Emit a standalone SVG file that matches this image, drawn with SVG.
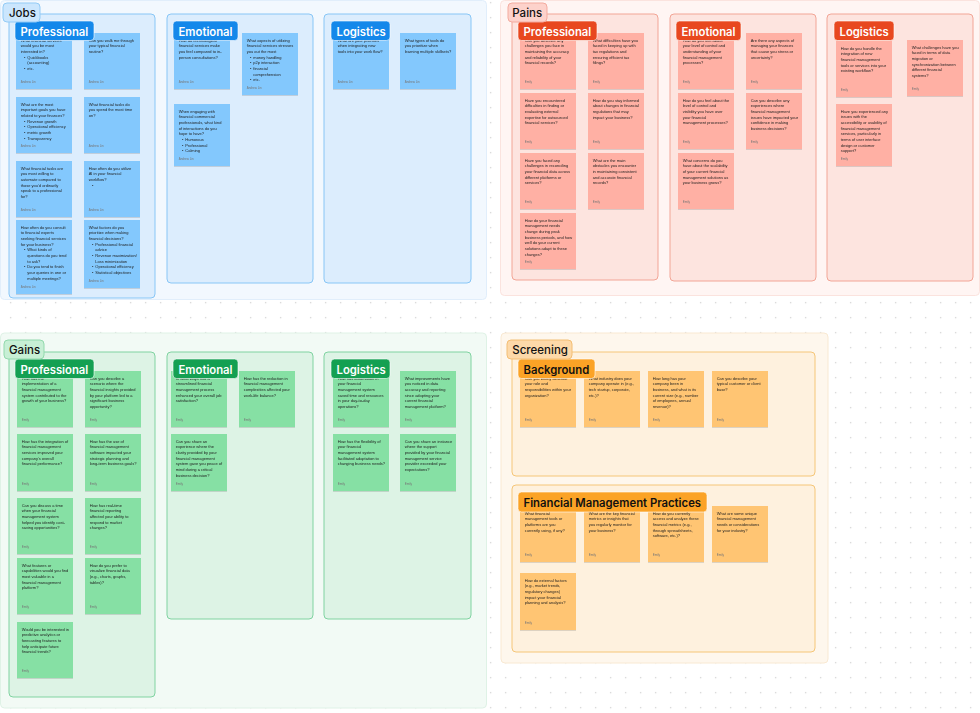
<svg xmlns="http://www.w3.org/2000/svg" width="980" height="713" viewBox="0 0 980 713">
<defs>
<pattern id="dots" width="15" height="15" patternUnits="userSpaceOnUse" x="3.2" y="-4.8"><rect x="6.9" y="6.9" width="1.2" height="1.2" fill="#c9c9c9"/></pattern>
<filter id="sh" x="-10%" y="-10%" width="120%" height="125%"><feDropShadow dx="0" dy="0.8" stdDeviation="0.7" flood-color="#000" flood-opacity="0.16"/></filter>
<style>
.t{font-family:"Liberation Sans",Arial,sans-serif;font-size:4px;fill:#1e1e1e}
.a{font-family:"Liberation Sans",Arial,sans-serif;font-size:3px;fill:#777}
.sec{font-family:Inter,"Liberation Sans",Arial,sans-serif;font-size:11.5px;font-weight:500;fill:#111}
.lab{font-family:Inter,"Liberation Sans",Arial,sans-serif;font-size:11.3px;font-weight:600;fill:#fff}
.labd{font-family:Inter,"Liberation Sans",Arial,sans-serif;font-size:11.3px;font-weight:600;fill:#111}
.s{filter:url(#sh)}
.jo{fill:#f2f8fe;stroke:#e1eefb}
.jc{fill:#dcedfd;stroke:#88c6f6}
.jb{fill:#cbe6fd;stroke:#93cbf6}
.jl{fill:#1488ea;stroke:#ffffff;stroke-opacity:.6}
.js{fill:#83c8fd}
.po{fill:#fff5f3;stroke:#fbe3de}
.pc{fill:#fde4df;stroke:#f2a596}
.pb{fill:#fdd2cb;stroke:#f3ab9f}
.pl{fill:#e8481f;stroke:#ffffff;stroke-opacity:.6}
.ps{fill:#ffb0a4}
.go{fill:#f2faf5;stroke:#dff2e6}
.gc{fill:#ddf3e5;stroke:#80d3a1}
.gb{fill:#c7efd5;stroke:#92d9ad}
.gl{fill:#14a052;stroke:#ffffff;stroke-opacity:.6}
.gs{fill:#86e0a4}
.so{fill:#fef7ed;stroke:#f9e9d2}
.sc{fill:#fef1de;stroke:#f5c678}
.sbd{fill:#fdd9a9;stroke:#f3be74}
.sl{fill:#fba326;stroke:#ffffff;stroke-opacity:.6}
.ss{fill:#ffc573}
</style>
</defs>
<rect width="980" height="713" fill="#ffffff"/>
<rect width="980" height="713" fill="url(#dots)"/>

<!-- ================= JOBS ================= -->
<g id="jobs">
<rect class="jo" x="0.5" y="0.5" width="486" height="299" rx="4"/>

<g id="jobs-professional">
<rect class="jc" x="9" y="14" width="146" height="284" rx="4"/>
<g id="jp1" class="s"><rect class="js" x="16" y="33" width="56" height="56"/>
<text class="t"><tspan x="20.7" y="41.8">What financial services</tspan><tspan x="20.7" dy="5.67">would you be most</tspan><tspan x="20.7" dy="5.67">interested in?</tspan><tspan x="24" dy="5.67">•</tspan><tspan x="27.3">Quickbooks</tspan><tspan x="27.3" dy="5.67">(accounting)</tspan><tspan x="24" dy="5.67">•</tspan><tspan x="27.3">etc.</tspan></text>
<text class="a" x="20.7" y="83">Andrew Lin</text></g>
<g id="jp2" class="s"><rect class="js" x="84" y="33" width="56" height="56"/>
<text class="t"><tspan x="88.7" y="41.8">Can you walk me through</tspan><tspan x="88.7" dy="5.67">your typical financial</tspan><tspan x="88.7" dy="5.67">routine?</tspan></text>
<text class="a" x="88.7" y="83">Andrew Lin</text></g>
<g id="jp3" class="s"><rect class="js" x="16" y="97" width="56" height="56"/>
<text class="t"><tspan x="20.7" y="105.8">What are the most</tspan><tspan x="20.7" dy="5.67">important goals you have</tspan><tspan x="20.7" dy="5.67">related to your finances?</tspan><tspan x="24" dy="5.67">•</tspan><tspan x="27.3">Revenue growth</tspan><tspan x="24" dy="5.67">•</tspan><tspan x="27.3">Operational efficiency</tspan><tspan x="24" dy="5.67">•</tspan><tspan x="27.3">metric growth</tspan><tspan x="24" dy="5.67">•</tspan><tspan x="27.3">Transparency</tspan></text>
<text class="a" x="20.7" y="147">Andrew Lin</text></g>
<g id="jp4" class="s"><rect class="js" x="84" y="97" width="56" height="56"/>
<text class="t"><tspan x="88.7" y="105.8">What financial tasks do</tspan><tspan x="88.7" dy="5.67">you spend the most time</tspan><tspan x="88.7" dy="5.67">on?</tspan></text>
<text class="a" x="88.7" y="147">Andrew Lin</text></g>
<g id="jp5" class="s"><rect class="js" x="16" y="161" width="56" height="56"/>
<text class="t"><tspan x="20.7" y="169.8">What financial tasks are</tspan><tspan x="20.7" dy="5.67">you most willing to</tspan><tspan x="20.7" dy="5.67">automate compared to</tspan><tspan x="20.7" dy="5.67">those you'd ordinarily</tspan><tspan x="20.7" dy="5.67">speak to a professional</tspan><tspan x="20.7" dy="5.67">for?</tspan></text>
<text class="a" x="20.7" y="211">Andrew Lin</text></g>
<g id="jp6" class="s"><rect class="js" x="84" y="161" width="56" height="56"/>
<text class="t"><tspan x="88.7" y="169.8">How often do you utilize</tspan><tspan x="88.7" dy="5.67">AI in your financial</tspan><tspan x="88.7" dy="5.67">workflow?</tspan><tspan x="92" dy="5.67">•</tspan></text>
<text class="a" x="88.7" y="211">Andrew Lin</text></g>
<g id="jp7" class="s"><rect class="js" x="16" y="220" width="56" height="74"/>
<text class="t"><tspan x="20.7" y="228.8">How often do you consult</tspan><tspan x="20.7" dy="5.67">to financial experts</tspan><tspan x="20.7" dy="5.67">seeking financial services</tspan><tspan x="20.7" dy="5.67">for your business?</tspan><tspan x="24" dy="5.67">•</tspan><tspan x="27.3">What kinds of</tspan><tspan x="27.3" dy="5.67">questions do you tend</tspan><tspan x="27.3" dy="5.67">to ask?</tspan><tspan x="24" dy="5.67">•</tspan><tspan x="27.3">Do you tend to finish</tspan><tspan x="27.3" dy="5.67">your queries in one or</tspan><tspan x="27.3" dy="5.67">multiple meetings?</tspan></text>
<text class="a" x="20.7" y="288">Andrew Lin</text></g>
<g id="jp8" class="s"><rect class="js" x="84" y="220" width="56" height="68"/>
<text class="t"><tspan x="88.7" y="228.8">What factors do you</tspan><tspan x="88.7" dy="5.67">prioritize when making</tspan><tspan x="88.7" dy="5.67">financial decisions?</tspan><tspan x="92" dy="5.67">•</tspan><tspan x="95.3">Professional financial</tspan><tspan x="95.3" dy="5.67">advice</tspan><tspan x="92" dy="5.67">•</tspan><tspan x="95.3">Revenue maximization/</tspan><tspan x="95.3" dy="5.67">Loss minimization</tspan><tspan x="92" dy="5.67">•</tspan><tspan x="95.3">Operational efficiency</tspan><tspan x="92" dy="5.67">•</tspan><tspan x="95.3">Statistical objectives</tspan></text>
<text class="a" x="88.7" y="282">Andrew Lin</text></g>
<g id="jp-label"><rect class="jl" x="15" y="21" width="79" height="19.5" rx="3.5"/><text class="lab" x="20.5" y="35.5">Professional</text></g>
</g>

<g id="jobs-emotional">
<rect class="jc" x="167" y="14" width="146" height="269" rx="4"/>
<g id="je1" class="s"><rect class="js" x="174" y="33" width="56" height="56"/>
<text class="t"><tspan x="178.7" y="41.8">How do technological</tspan><tspan x="178.7" dy="5.67">financial services make</tspan><tspan x="178.7" dy="5.67">you feel compared to in-</tspan><tspan x="178.7" dy="5.67">person consultations?</tspan></text>
<text class="a" x="178.7" y="83">Andrew Lin</text></g>
<g id="je2" class="s"><rect class="js" x="242" y="33" width="56" height="62"/>
<text class="t"><tspan x="246.7" y="41.8">What aspects of utilizing</tspan><tspan x="246.7" dy="5.67">financial services stresses</tspan><tspan x="246.7" dy="5.67">you out the most</tspan><tspan x="250" dy="5.67">•</tspan><tspan x="253.3">money handling</tspan><tspan x="250" dy="5.67">•</tspan><tspan x="253.3">p2p interaction</tspan><tspan x="250" dy="5.67">•</tspan><tspan x="253.3">financial</tspan><tspan x="253.3" dy="5.67">comprehension</tspan><tspan x="250" dy="5.67">•</tspan><tspan x="253.3">etc.</tspan></text>
<text class="a" x="246.7" y="89">Andrew Lin</text></g>
<g id="je3" class="s"><rect class="js" x="174" y="104" width="56" height="62"/>
<text class="t"><tspan x="178.7" y="112.8">When engaging with</tspan><tspan x="178.7" dy="5.67">financial commercial</tspan><tspan x="178.7" dy="5.67">professionals, what kind</tspan><tspan x="178.7" dy="5.67">of interactions do you</tspan><tspan x="178.7" dy="5.67">hope to have?</tspan><tspan x="182" dy="5.67">•</tspan><tspan x="185.3">Humorous</tspan><tspan x="182" dy="5.67">•</tspan><tspan x="185.3">Professional</tspan><tspan x="182" dy="5.67">•</tspan><tspan x="185.3">Calming</tspan></text>
<text class="a" x="178.7" y="160">Andrew Lin</text></g>
<g id="je-label"><rect class="jl" x="173" y="21" width="65" height="19.5" rx="3.5"/><text class="lab" x="178.5" y="35.5">Emotional</text></g>
</g>

<g id="jobs-logistics">
<rect class="jc" x="324" y="14" width="147" height="269" rx="4"/>
<g id="jl1" class="s"><rect class="js" x="333" y="33" width="56" height="56"/>
<text class="t"><tspan x="337.7" y="41.8">What are your priorities</tspan><tspan x="337.7" dy="5.67">when integrating new</tspan><tspan x="337.7" dy="5.67">tools into your work flow?</tspan></text>
<text class="a" x="337.7" y="83">Andrew Lin</text></g>
<g id="jl2" class="s"><rect class="js" x="400" y="33" width="56" height="56"/>
<text class="t"><tspan x="404.7" y="41.8">What types of tools do</tspan><tspan x="404.7" dy="5.67">you prioritize when</tspan><tspan x="404.7" dy="5.67">learning multiple skillsets?</tspan></text>
<text class="a" x="404.7" y="83">Andrew Lin</text></g>
<g id="jl-label"><rect class="jl" x="331" y="21" width="59" height="19.5" rx="3.5"/><text class="lab" x="336.5" y="35.5">Logistics</text></g>
</g>
<g id="jobs-title"><rect class="jb" x="3" y="3" width="37" height="19" rx="4"/><text class="sec" x="9" y="16.7">Jobs</text></g>
</g>

<!-- ================= PAINS ================= -->
<g id="pains">
<rect class="po" x="500.5" y="0.5" width="479" height="295" rx="4"/>

<g id="pains-professional">
<rect class="pc" x="512" y="14" width="146" height="266" rx="4"/>
<g id="pp1" class="s"><rect class="ps" x="520" y="33" width="56" height="56"/>
<text class="t"><tspan x="524.7" y="41.8">Can you describe any</tspan><tspan x="524.7" dy="5.67">challenges you face in</tspan><tspan x="524.7" dy="5.67">maintaining the accuracy</tspan><tspan x="524.7" dy="5.67">and reliability of your</tspan><tspan x="524.7" dy="5.67">financial records?</tspan></text>
<text class="a" x="524.7" y="83">Emily</text></g>
<g id="pp2" class="s"><rect class="ps" x="588" y="33" width="56" height="56"/>
<text class="t"><tspan x="592.7" y="41.8">What difficulties have you</tspan><tspan x="592.7" dy="5.67">faced in keeping up with</tspan><tspan x="592.7" dy="5.67">tax regulations and</tspan><tspan x="592.7" dy="5.67">ensuring efficient tax</tspan><tspan x="592.7" dy="5.67">filings?</tspan></text>
<text class="a" x="592.7" y="83">Emily</text></g>
<g id="pp3" class="s"><rect class="ps" x="520" y="93" width="56" height="56"/>
<text class="t"><tspan x="524.7" y="101.8">Have you encountered</tspan><tspan x="524.7" dy="5.67">difficulties in finding or</tspan><tspan x="524.7" dy="5.67">evaluating external</tspan><tspan x="524.7" dy="5.67">expertise for outsourced</tspan><tspan x="524.7" dy="5.67">financial services?</tspan></text>
<text class="a" x="524.7" y="143">Emily</text></g>
<g id="pp4" class="s"><rect class="ps" x="588" y="93" width="56" height="56"/>
<text class="t"><tspan x="592.7" y="101.8">How do you stay informed</tspan><tspan x="592.7" dy="5.67">about changes in financial</tspan><tspan x="592.7" dy="5.67">regulations that may</tspan><tspan x="592.7" dy="5.67">impact your business?</tspan></text>
<text class="a" x="592.7" y="143">Emily</text></g>
<g id="pp5" class="s"><rect class="ps" x="520" y="153" width="56" height="56"/>
<text class="t"><tspan x="524.7" y="161.8">Have you faced any</tspan><tspan x="524.7" dy="5.67">challenges in reconciling</tspan><tspan x="524.7" dy="5.67">your financial data across</tspan><tspan x="524.7" dy="5.67">different platforms or</tspan><tspan x="524.7" dy="5.67">services?</tspan></text>
<text class="a" x="524.7" y="203">Emily</text></g>
<g id="pp6" class="s"><rect class="ps" x="588" y="153" width="56" height="56"/>
<text class="t"><tspan x="592.7" y="161.8">What are the main</tspan><tspan x="592.7" dy="5.67">obstacles you encounter</tspan><tspan x="592.7" dy="5.67">in maintaining consistent</tspan><tspan x="592.7" dy="5.67">and accurate financial</tspan><tspan x="592.7" dy="5.67">records?</tspan></text>
<text class="a" x="592.7" y="203">Emily</text></g>
<g id="pp7" class="s"><rect class="ps" x="520" y="213" width="56" height="56"/>
<text class="t"><tspan x="524.7" y="221.8">How do your financial</tspan><tspan x="524.7" dy="5.67">management needs</tspan><tspan x="524.7" dy="5.67">change during peak</tspan><tspan x="524.7" dy="5.67">business periods, and how</tspan><tspan x="524.7" dy="5.67">well do your current</tspan><tspan x="524.7" dy="5.67">solutions adapt to these</tspan><tspan x="524.7" dy="5.67">changes?</tspan></text>
<text class="a" x="524.7" y="263">Emily</text></g>
<g id="pp-label"><rect class="pl" x="518" y="21" width="79" height="19.5" rx="3.5"/><text class="lab" x="523.5" y="35.5">Professional</text></g>
</g>

<g id="pains-emotional">
<rect class="pc" x="670" y="14" width="146" height="267" rx="4"/>
<g id="pe1" class="s"><rect class="ps" x="678" y="33" width="56" height="56"/>
<text class="t"><tspan x="682.7" y="41.8">How do you feel about</tspan><tspan x="682.7" dy="5.67">your level of control and</tspan><tspan x="682.7" dy="5.67">understanding of your</tspan><tspan x="682.7" dy="5.67">financial management</tspan><tspan x="682.7" dy="5.67">processes?</tspan></text>
<text class="a" x="682.7" y="83">Emily</text></g>
<g id="pe2" class="s"><rect class="ps" x="746" y="33" width="56" height="56"/>
<text class="t"><tspan x="750.7" y="41.8">Are there any aspects of</tspan><tspan x="750.7" dy="5.67">managing your finances</tspan><tspan x="750.7" dy="5.67">that cause you stress or</tspan><tspan x="750.7" dy="5.67">uncertainty?</tspan></text>
<text class="a" x="750.7" y="83">Emily</text></g>
<g id="pe3" class="s"><rect class="ps" x="678" y="93" width="56" height="56"/>
<text class="t"><tspan x="682.7" y="101.8">How do you feel about the</tspan><tspan x="682.7" dy="5.67">level of control and</tspan><tspan x="682.7" dy="5.67">visibility you have over</tspan><tspan x="682.7" dy="5.67">your financial</tspan><tspan x="682.7" dy="5.67">management processes?</tspan></text>
<text class="a" x="682.7" y="143">Emily</text></g>
<g id="pe4" class="s"><rect class="ps" x="746" y="93" width="56" height="56"/>
<text class="t"><tspan x="750.7" y="101.8">Can you describe any</tspan><tspan x="750.7" dy="5.67">experiences where</tspan><tspan x="750.7" dy="5.67">financial management</tspan><tspan x="750.7" dy="5.67">issues have impacted your</tspan><tspan x="750.7" dy="5.67">confidence in making</tspan><tspan x="750.7" dy="5.67">business decisions?</tspan></text>
<text class="a" x="750.7" y="143">Emily</text></g>
<g id="pe5" class="s"><rect class="ps" x="678" y="153" width="56" height="56"/>
<text class="t"><tspan x="682.7" y="161.8">What concerns do you</tspan><tspan x="682.7" dy="5.67">have about the scalability</tspan><tspan x="682.7" dy="5.67">of your current financial</tspan><tspan x="682.7" dy="5.67">management solutions as</tspan><tspan x="682.7" dy="5.67">your business grows?</tspan></text>
<text class="a" x="682.7" y="203">Emily</text></g>
<g id="pe-label"><rect class="pl" x="676" y="21" width="65" height="19.5" rx="3.5"/><text class="lab" x="681.5" y="35.5">Emotional</text></g>
</g>

<g id="pains-logistics">
<rect class="pc" x="827" y="14" width="146" height="267" rx="4"/>
<g id="pl1" class="s"><rect class="ps" x="836" y="41" width="56" height="56"/>
<text class="t"><tspan x="840.7" y="49.8">How do you handle the</tspan><tspan x="840.7" dy="5.67">integration of new</tspan><tspan x="840.7" dy="5.67">financial management</tspan><tspan x="840.7" dy="5.67">tools or services into your</tspan><tspan x="840.7" dy="5.67">existing workflow?</tspan></text>
<text class="a" x="840.7" y="91">Emily</text></g>
<g id="pl2" class="s"><rect class="ps" x="907" y="40" width="56" height="56"/>
<text class="t"><tspan x="911.7" y="48.8">What challenges have you</tspan><tspan x="911.7" dy="5.67">faced in terms of data</tspan><tspan x="911.7" dy="5.67">migration or</tspan><tspan x="911.7" dy="5.67">synchronization between</tspan><tspan x="911.7" dy="5.67">different financial</tspan><tspan x="911.7" dy="5.67">systems?</tspan></text>
<text class="a" x="911.7" y="90">Emily</text></g>
<g id="pl3" class="s"><rect class="ps" x="836" y="104" width="56" height="62"/>
<text class="t"><tspan x="840.7" y="112.8">Have you experienced any</tspan><tspan x="840.7" dy="5.67">issues with the</tspan><tspan x="840.7" dy="5.67">accessibility or usability of</tspan><tspan x="840.7" dy="5.67">financial management</tspan><tspan x="840.7" dy="5.67">services, particularly in</tspan><tspan x="840.7" dy="5.67">terms of user interface</tspan><tspan x="840.7" dy="5.67">design or customer</tspan><tspan x="840.7" dy="5.67">support?</tspan></text>
<text class="a" x="840.7" y="160">Emily</text></g>
<g id="pl-label"><rect class="pl" x="834" y="21" width="60" height="19.5" rx="3.5"/><text class="lab" x="839.5" y="35.5">Logistics</text></g>
</g>
<g id="pains-title"><rect class="pb" x="508" y="3" width="39" height="19" rx="4"/><text class="sec" x="512.3" y="16.7">Pains</text></g>
</g>

<!-- ================= GAINS ================= -->
<g id="gains">
<rect class="go" x="0.5" y="333" width="486" height="375" rx="4"/>

<g id="gains-professional">
<rect class="gc" x="9" y="352" width="146" height="345" rx="4"/>
<g id="gp1" class="s"><rect class="gs" x="17" y="371" width="56" height="56"/>
<text class="t"><tspan x="21.7" y="379.8">How has the</tspan><tspan x="21.7" dy="5.67">implementation of a</tspan><tspan x="21.7" dy="5.67">financial management</tspan><tspan x="21.7" dy="5.67">system contributed to the</tspan><tspan x="21.7" dy="5.67">growth of your business?</tspan></text>
<text class="a" x="21.7" y="421">Emily</text></g>
<g id="gp2" class="s"><rect class="gs" x="85" y="371" width="56" height="56"/>
<text class="t"><tspan x="89.7" y="379.8">Can you describe a</tspan><tspan x="89.7" dy="5.67">scenario where the</tspan><tspan x="89.7" dy="5.67">financial insights provided</tspan><tspan x="89.7" dy="5.67">by your platform led to a</tspan><tspan x="89.7" dy="5.67">significant business</tspan><tspan x="89.7" dy="5.67">opportunity?</tspan></text>
<text class="a" x="89.7" y="421">Emily</text></g>
<g id="gp3" class="s"><rect class="gs" x="17" y="434" width="56" height="57"/>
<text class="t"><tspan x="21.7" y="442.8">How has the integration of</tspan><tspan x="21.7" dy="5.67">financial management</tspan><tspan x="21.7" dy="5.67">services improved your</tspan><tspan x="21.7" dy="5.67">company's overall</tspan><tspan x="21.7" dy="5.67">financial performance?</tspan></text>
<text class="a" x="21.7" y="485">Emily</text></g>
<g id="gp4" class="s"><rect class="gs" x="85" y="434" width="56" height="57"/>
<text class="t"><tspan x="89.7" y="442.8">How has the use of</tspan><tspan x="89.7" dy="5.67">financial management</tspan><tspan x="89.7" dy="5.67">software impacted your</tspan><tspan x="89.7" dy="5.67">strategic planning and</tspan><tspan x="89.7" dy="5.67">long-term business goals?</tspan></text>
<text class="a" x="89.7" y="485">Emily</text></g>
<g id="gp5" class="s"><rect class="gs" x="17" y="498" width="56" height="56"/>
<text class="t"><tspan x="21.7" y="506.8">Can you discuss a time</tspan><tspan x="21.7" dy="5.67">when your financial</tspan><tspan x="21.7" dy="5.67">management system</tspan><tspan x="21.7" dy="5.67">helped you identify cost-</tspan><tspan x="21.7" dy="5.67">saving opportunities?</tspan></text>
<text class="a" x="21.7" y="548">Emily</text></g>
<g id="gp6" class="s"><rect class="gs" x="85" y="498" width="56" height="56"/>
<text class="t"><tspan x="89.7" y="506.8">How has real-time</tspan><tspan x="89.7" dy="5.67">financial reporting</tspan><tspan x="89.7" dy="5.67">affected your ability to</tspan><tspan x="89.7" dy="5.67">respond to market</tspan><tspan x="89.7" dy="5.67">changes?</tspan></text>
<text class="a" x="89.7" y="548">Emily</text></g>
<g id="gp7" class="s"><rect class="gs" x="17" y="558" width="56" height="56"/>
<text class="t"><tspan x="21.7" y="566.8">What features or</tspan><tspan x="21.7" dy="5.67">capabilities would you find</tspan><tspan x="21.7" dy="5.67">most valuable in a</tspan><tspan x="21.7" dy="5.67">financial management</tspan><tspan x="21.7" dy="5.67">platform?</tspan></text>
<text class="a" x="21.7" y="608">Emily</text></g>
<g id="gp8" class="s"><rect class="gs" x="85" y="558" width="56" height="56"/>
<text class="t"><tspan x="89.7" y="566.8">How do you prefer to</tspan><tspan x="89.7" dy="5.67">visualize financial data</tspan><tspan x="89.7" dy="5.67">(e.g., charts, graphs,</tspan><tspan x="89.7" dy="5.67">tables)?</tspan></text>
<text class="a" x="89.7" y="608">Emily</text></g>
<g id="gp9" class="s"><rect class="gs" x="17" y="622" width="56" height="56"/>
<text class="t"><tspan x="21.7" y="630.8">Would you be interested in</tspan><tspan x="21.7" dy="5.67">predictive analytics or</tspan><tspan x="21.7" dy="5.67">forecasting features to</tspan><tspan x="21.7" dy="5.67">help anticipate future</tspan><tspan x="21.7" dy="5.67">financial trends?</tspan></text>
<text class="a" x="21.7" y="672">Emily</text></g>
<g id="gp-label"><rect class="gl" x="15" y="359" width="79" height="19.5" rx="3.5"/><text class="lab" x="20.5" y="373.5">Professional</text></g>
</g>

<g id="gains-emotional">
<rect class="gc" x="167" y="352" width="146" height="267" rx="4"/>
<g id="ge1" class="s"><rect class="gs" x="171" y="371" width="56" height="56"/>
<text class="t"><tspan x="175.7" y="379.8">In what ways has a</tspan><tspan x="175.7" dy="5.67">streamlined financial</tspan><tspan x="175.7" dy="5.67">management process</tspan><tspan x="175.7" dy="5.67">enhanced your overall job</tspan><tspan x="175.7" dy="5.67">satisfaction?</tspan></text>
<text class="a" x="175.7" y="421">Emily</text></g>
<g id="ge2" class="s"><rect class="gs" x="239" y="371" width="56" height="56"/>
<text class="t"><tspan x="243.7" y="379.8">How has the reduction in</tspan><tspan x="243.7" dy="5.67">financial management</tspan><tspan x="243.7" dy="5.67">complexities affected your</tspan><tspan x="243.7" dy="5.67">work-life balance?</tspan></text>
<text class="a" x="243.7" y="421">Emily</text></g>
<g id="ge3" class="s"><rect class="gs" x="171" y="434" width="56" height="57"/>
<text class="t"><tspan x="175.7" y="442.8">Can you share an</tspan><tspan x="175.7" dy="5.67">experience where the</tspan><tspan x="175.7" dy="5.67">clarity provided by your</tspan><tspan x="175.7" dy="5.67">financial management</tspan><tspan x="175.7" dy="5.67">system gave you peace of</tspan><tspan x="175.7" dy="5.67">mind during a critical</tspan><tspan x="175.7" dy="5.67">business decision?</tspan></text>
<text class="a" x="175.7" y="485">Emily</text></g>
<g id="ge-label"><rect class="gl" x="173" y="359" width="65" height="19.5" rx="3.5"/><text class="lab" x="178.5" y="373.5">Emotional</text></g>
</g>

<g id="gains-logistics">
<rect class="gc" x="324" y="352" width="147" height="267" rx="4"/>
<g id="gl1" class="s"><rect class="gs" x="333" y="371" width="56" height="56"/>
<text class="t"><tspan x="337.7" y="379.8">How has automation in</tspan><tspan x="337.7" dy="5.67">your financial</tspan><tspan x="337.7" dy="5.67">management system</tspan><tspan x="337.7" dy="5.67">saved time and resources</tspan><tspan x="337.7" dy="5.67">in your day-to-day</tspan><tspan x="337.7" dy="5.67">operations?</tspan></text>
<text class="a" x="337.7" y="421">Emily</text></g>
<g id="gl2" class="s"><rect class="gs" x="400" y="371" width="56" height="56"/>
<text class="t"><tspan x="404.7" y="379.8">What improvements have</tspan><tspan x="404.7" dy="5.67">you noticed in data</tspan><tspan x="404.7" dy="5.67">accuracy and reporting</tspan><tspan x="404.7" dy="5.67">since adopting your</tspan><tspan x="404.7" dy="5.67">current financial</tspan><tspan x="404.7" dy="5.67">management platform?</tspan></text>
<text class="a" x="404.7" y="421">Emily</text></g>
<g id="gl3" class="s"><rect class="gs" x="333" y="434" width="56" height="57"/>
<text class="t"><tspan x="337.7" y="442.8">How has the flexibility of</tspan><tspan x="337.7" dy="5.67">your financial</tspan><tspan x="337.7" dy="5.67">management system</tspan><tspan x="337.7" dy="5.67">facilitated adaptation to</tspan><tspan x="337.7" dy="5.67">changing business needs?</tspan></text>
<text class="a" x="337.7" y="485">Emily</text></g>
<g id="gl4" class="s"><rect class="gs" x="400" y="434" width="56" height="57"/>
<text class="t"><tspan x="404.7" y="442.8">Can you share an instance</tspan><tspan x="404.7" dy="5.67">where the support</tspan><tspan x="404.7" dy="5.67">provided by your financial</tspan><tspan x="404.7" dy="5.67">management service</tspan><tspan x="404.7" dy="5.67">provider exceeded your</tspan><tspan x="404.7" dy="5.67">expectations?</tspan></text>
<text class="a" x="404.7" y="485">Emily</text></g>
<g id="gl-label"><rect class="gl" x="331" y="359" width="59" height="19.5" rx="3.5"/><text class="lab" x="336.5" y="373.5">Logistics</text></g>
</g>
<g id="gains-title"><rect class="gb" x="4" y="340" width="40" height="19" rx="4"/><text class="sec" x="9" y="354">Gains</text></g>
</g>

<!-- ================= SCREENING ================= -->
<g id="screening">
<rect class="so" x="501" y="333" width="327" height="330" rx="4"/>

<g id="screening-background">
<rect class="sc" x="512" y="352" width="303" height="124" rx="4"/>
<g id="sb1" class="s"><rect class="ss" x="520" y="371" width="56" height="56"/>
<text class="t"><tspan x="524.7" y="379.8">Can you briefly describe</tspan><tspan x="524.7" dy="5.67">your role and</tspan><tspan x="524.7" dy="5.67">responsibilities within your</tspan><tspan x="524.7" dy="5.67">organization?</tspan></text>
<text class="a" x="524.7" y="421">Emily</text></g>
<g id="sb2" class="s"><rect class="ss" x="584" y="371" width="56" height="56"/>
<text class="t"><tspan x="588.7" y="379.8">What industry does your</tspan><tspan x="588.7" dy="5.67">company operate in (e.g.,</tspan><tspan x="588.7" dy="5.67">tech startup, corporate,</tspan><tspan x="588.7" dy="5.67">etc.)?</tspan></text>
<text class="a" x="588.7" y="421">Emily</text></g>
<g id="sb3" class="s"><rect class="ss" x="648" y="371" width="56" height="56"/>
<text class="t"><tspan x="652.7" y="379.8">How long has your</tspan><tspan x="652.7" dy="5.67">company been in</tspan><tspan x="652.7" dy="5.67">business, and what is its</tspan><tspan x="652.7" dy="5.67">current size (e.g., number</tspan><tspan x="652.7" dy="5.67">of employees, annual</tspan><tspan x="652.7" dy="5.67">revenue)?</tspan></text>
<text class="a" x="652.7" y="421">Emily</text></g>
<g id="sb4" class="s"><rect class="ss" x="712" y="371" width="56" height="56"/>
<text class="t"><tspan x="716.7" y="379.8">Can you describe your</tspan><tspan x="716.7" dy="5.67">typical customer or client</tspan><tspan x="716.7" dy="5.67">base?</tspan></text>
<text class="a" x="716.7" y="421">Emily</text></g>
<g id="sb-label"><rect class="sl" x="518" y="359" width="77" height="19.5" rx="3.5"/><text class="labd" x="523.5" y="373.5">Background</text></g>
</g>

<g id="screening-fmp">
<rect class="sc" x="512" y="485" width="303" height="167" rx="4"/>
<g id="f1" class="s"><rect class="ss" x="520" y="506" width="56" height="56"/>
<text class="t"><tspan x="524.7" y="514.8">What financial</tspan><tspan x="524.7" dy="5.67">management tools or</tspan><tspan x="524.7" dy="5.67">platforms are you</tspan><tspan x="524.7" dy="5.67">currently using, if any?</tspan></text>
<text class="a" x="524.7" y="556">Emily</text></g>
<g id="f2" class="s"><rect class="ss" x="584" y="506" width="56" height="56"/>
<text class="t"><tspan x="588.7" y="514.8">What are the key financial</tspan><tspan x="588.7" dy="5.67">metrics or insights that</tspan><tspan x="588.7" dy="5.67">you regularly monitor for</tspan><tspan x="588.7" dy="5.67">your business?</tspan></text>
<text class="a" x="588.7" y="556">Emily</text></g>
<g id="f3" class="s"><rect class="ss" x="648" y="506" width="56" height="56"/>
<text class="t"><tspan x="652.7" y="514.8">How do you currently</tspan><tspan x="652.7" dy="5.67">access and analyze these</tspan><tspan x="652.7" dy="5.67">financial metrics (e.g.,</tspan><tspan x="652.7" dy="5.67">through spreadsheets,</tspan><tspan x="652.7" dy="5.67">software, etc.)?</tspan></text>
<text class="a" x="652.7" y="556">Emily</text></g>
<g id="f4" class="s"><rect class="ss" x="712" y="506" width="56" height="56"/>
<text class="t"><tspan x="716.7" y="514.8">What are some unique</tspan><tspan x="716.7" dy="5.67">financial management</tspan><tspan x="716.7" dy="5.67">needs or considerations</tspan><tspan x="716.7" dy="5.67">for your industry?</tspan></text>
<text class="a" x="716.7" y="556">Emily</text></g>
<g id="f5" class="s"><rect class="ss" x="520" y="573" width="56" height="57"/>
<text class="t"><tspan x="524.7" y="581.8">How do external factors</tspan><tspan x="524.7" dy="5.67">(e.g., market trends,</tspan><tspan x="524.7" dy="5.67">regulatory changes)</tspan><tspan x="524.7" dy="5.67">impact your financial</tspan><tspan x="524.7" dy="5.67">planning and analysis?</tspan></text>
<text class="a" x="524.7" y="624">Emily</text></g>
<g id="fmp-label"><rect class="sl" x="518" y="492" width="189" height="20" rx="3.5"/><text class="labd" x="523.5" y="506.5">Financial Management Practices</text></g>
</g>
<g id="screening-title"><rect class="sbd" x="507" y="340" width="65" height="19" rx="4"/><text class="sec" x="512.3" y="354">Screening</text></g>
</g>

<g id="connectors"/>
</svg>
